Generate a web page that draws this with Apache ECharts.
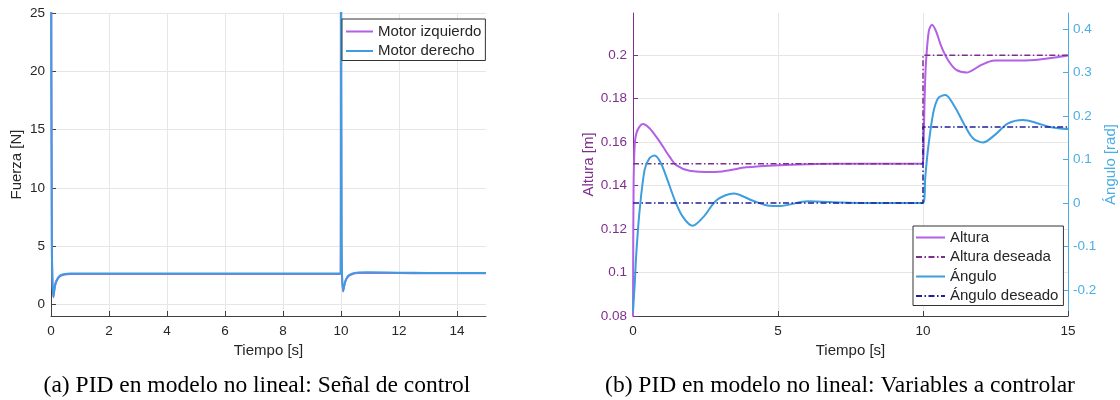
<!DOCTYPE html>
<html>
<head>
<meta charset="utf-8">
<script src="https://cdn.jsdelivr.net/npm/echarts@6/dist/echarts.min.js"></script>
<style>
  html, body { margin: 0; padding: 0; background: #fff; }
  #main { width: 1120px; height: 400px; }
</style>
</head>
<body>
<div id="main"></div>
<script>
// (a) Señal de control
const tMotor = [0, 0.03, 0.08, 0.14, 0.2, 0.31, 0.48, 0.7, 1, 2, 4, 6, 8, 9.99, 10.0, 10.02, 10.07, 10.15, 10.25, 10.4, 10.6, 10.9, 12, 13, 14, 15];
const motorIzq = [40, 5, 0.6, 1.6, 2.05, 2.42, 2.56, 2.6, 2.61, 2.61, 2.61, 2.61, 2.61, 2.61, 40, 5, 1.1, 1.95, 2.4, 2.6, 2.68, 2.7, 2.68, 2.66, 2.66, 2.66];
const motorDer = [40, 5, 0.65, 1.65, 2.09, 2.46, 2.6, 2.64, 2.65, 2.65, 2.65, 2.65, 2.65, 2.65, 40, 5, 1.15, 2.0, 2.45, 2.65, 2.73, 2.75, 2.72, 2.7, 2.7, 2.7];
const ticksA_x = [0, 2, 4, 6, 8, 10, 12, 14];
const ticksA_y = [0, 5, 10, 15, 20, 25];

// (b) Variables a controlar
const tAlt = [0, 0.02, 0.06, 0.115, 0.22, 0.34, 0.57, 0.8, 1.03, 1.26, 1.49, 1.95, 2.76, 3.33, 3.9, 5.06, 6, 7, 8, 9, 10, 10.03, 10.06, 10.1, 10.2, 10.31, 10.45, 10.63, 10.86, 11.15, 11.5, 12.01, 12.47, 13.16, 13.85, 14.54, 15];
const altura = [0.08, 0.14, 0.159, 0.164, 0.167, 0.1683, 0.1664, 0.1625, 0.158, 0.1533, 0.1494, 0.1468, 0.1462, 0.1471, 0.1484, 0.1494, 0.1498, 0.15, 0.15, 0.15, 0.15, 0.165, 0.182, 0.196, 0.211, 0.214, 0.211, 0.204, 0.1978, 0.1932, 0.192, 0.1955, 0.1975, 0.1975, 0.1978, 0.1989, 0.1998];
const tAltDes = [0, 10, 10, 15];
const alturaDes = [0.15, 0.15, 0.2, 0.2];
const tAng = [0, 0.06, 0.115, 0.23, 0.4, 0.57, 0.75, 0.95, 1.15, 1.44, 1.72, 2.06, 2.43, 2.89, 3.47, 4.14, 4.71, 5.06, 6.03, 7.2, 8, 9, 10, 10.08, 10.17, 10.35, 10.52, 10.77, 11.09, 11.43, 11.72, 12.07, 12.47, 12.93, 13.45, 13.97, 14.43, 14.95, 15];
const angulo = [-0.25, -0.185, -0.115, -0.016, 0.076, 0.103, 0.109, 0.093, 0.06, 0.0067, -0.032, -0.0525, -0.032, 0.0067, 0.022, 0.005, -0.0064, -0.007, 0.004, 0.001, 0, 0, 0, 0.06, 0.122, 0.206, 0.241, 0.2486, 0.222, 0.1795, 0.149, 0.139, 0.156, 0.183, 0.191, 0.183, 0.174, 0.170, 0.170];
const tAngDes = [0, 10, 10, 15];
const anguloDes = [0, 0, 0.1745, 0.1745];
const ticksB_alt = [0.08, 0.1, 0.12, 0.14, 0.16, 0.18, 0.2];
const ticksB_ang = [-0.2, -0.1, 0, 0.1, 0.2, 0.3, 0.4];

const C = {
  purple: "#B35FE6",
  blue: "#3D9DDE",
  purpleDark: "#7E2F8E",
  navy: "#1F1F9C",
  angAxis: "#4DAEE3",
  axis: "#404040",
  text: "#262626",
  grid: "#E6E6E6"
};
const FONT = "'Liberation Sans', Arial, sans-serif";
const DASHDOT = [6, 2.5, 1.5, 2.5];

function pairs(xs, ys) { return xs.map(function (x, i) { return [x, ys[i]]; }); }
function fmt(v) { return String(+(+v).toFixed(3)); }

function xAxisOpt(gridIndex, max, ticks, interval) {
  const o = {
    type: "value", gridIndex: gridIndex, min: 0, max: max,
    name: "Tiempo [s]", nameLocation: "middle", nameGap: 26,
    nameTextStyle: { color: C.text, fontSize: 15, fontFamily: FONT },
    axisLine: { show: true, onZero: false, lineStyle: { color: C.axis, width: 1 } },
    axisTick: { show: true, inside: true, length: 5, lineStyle: { color: C.axis } },
    axisLabel: { color: C.text, fontSize: 13.5, fontFamily: FONT, margin: 8, formatter: fmt },
    splitLine: { show: true, lineStyle: { color: C.grid, width: 1 } }
  };
  if (ticks) {
    o.axisTick.customValues = ticks;
    o.axisLabel.customValues = ticks;
  } else {
    o.interval = interval;
  }
  return o;
}

function legendOpt(names, left, top, itemWidth, padding) {
  return {
    data: names,
    orient: "vertical", left: left, top: top,
    padding: padding, itemGap: 4.5, itemWidth: itemWidth, itemHeight: 14,
    backgroundColor: "#fff", borderColor: "#333", borderWidth: 1,
    selectedMode: false,
    itemStyle: { opacity: 0 },
    textStyle: { color: C.text, fontSize: 15, lineHeight: 15, fontFamily: FONT }
  };
}

const chart = echarts.init(document.getElementById("main"), null, { renderer: "canvas" });
chart.setOption({
  animation: false,
  backgroundColor: "#fff",
  textStyle: { fontFamily: FONT },
  grid: [
    { left: 51, right: 634, top: 13, bottom: 84, containLabel: false },
    { left: 633, right: 52, top: 13, bottom: 84, containLabel: false }
  ],
  xAxis: [
    xAxisOpt(0, 15, ticksA_x),
    xAxisOpt(1, 15, null, 5)
  ],
  yAxis: [
    {
      type: "value", gridIndex: 0, min: -1, max: 25,
      name: "Fuerza [N]", nameLocation: "middle", nameGap: 27, nameRotate: 90,
      nameTextStyle: { color: C.text, fontSize: 15, fontFamily: FONT },
      axisLine: { show: true, onZero: false, lineStyle: { color: C.axis } },
      axisTick: { show: true, inside: true, length: 5, customValues: ticksA_y, lineStyle: { color: C.axis } },
      axisLabel: { color: C.text, fontSize: 13.5, fontFamily: FONT, margin: 6, customValues: ticksA_y, formatter: fmt },
      splitLine: { show: true, lineStyle: { color: C.grid } }
    },
    {
      type: "value", gridIndex: 1, min: 0.08, max: 0.2194, position: "left",
      name: "Altura [m]", nameLocation: "middle", nameGap: 36, nameRotate: 90,
      nameTextStyle: { color: C.purpleDark, fontSize: 15, fontFamily: FONT },
      axisLine: { show: true, onZero: false, lineStyle: { color: C.purpleDark } },
      axisTick: { show: true, inside: true, length: 5, customValues: ticksB_alt, lineStyle: { color: C.purpleDark } },
      axisLabel: { color: C.purpleDark, fontSize: 13.5, fontFamily: FONT, margin: 6, customValues: ticksB_alt, formatter: fmt },
      splitLine: { show: true, lineStyle: { color: C.grid } }
    },
    {
      type: "value", gridIndex: 1, min: -0.26, max: 0.437, position: "right",
      name: "Ángulo [rad]", nameLocation: "middle", nameGap: 35, nameRotate: 90,
      nameTextStyle: { color: C.angAxis, fontSize: 15, fontFamily: FONT },
      axisLine: { show: true, onZero: false, lineStyle: { color: C.angAxis } },
      axisTick: { show: true, inside: true, length: 5, customValues: ticksB_ang, lineStyle: { color: C.angAxis } },
      axisLabel: { color: C.angAxis, fontSize: 13.5, fontFamily: FONT, margin: 5, customValues: ticksB_ang, formatter: fmt },
      splitLine: { show: false }
    }
  ],
  legend: [
    legendOpt(["Motor izquierdo", "Motor derecho"], 342, 19, 27, [5, 4, 2, 3]),
    legendOpt(["Altura", "Altura deseada", "Ángulo", "Ángulo deseado"], 913, 226, 29, [4, 5, 2, 2])
  ],
  graphic: [
    {
      type: "text", x: 257, y: 386,
      style: { text: "(a) PID en modelo no lineal: Señal de control", fill: "#000", font: "23.5px 'Liberation Serif', 'Times New Roman', serif", align: "center", verticalAlign: "middle" }
    },
    {
      type: "text", x: 840, y: 386,
      style: { text: "(b) PID en modelo no lineal: Variables a controlar", fill: "#000", font: "23.5px 'Liberation Serif', 'Times New Roman', serif", align: "center", verticalAlign: "middle" }
    }
  ],
  series: [
    {
      name: "Motor izquierdo", type: "line", xAxisIndex: 0, yAxisIndex: 0,
      data: pairs(tMotor, motorIzq), showSymbol: false, symbol: "none", smooth: 0.3,
      lineStyle: { color: C.purple, width: 2 }, itemStyle: { color: C.purple }
    },
    {
      name: "Motor derecho", type: "line", xAxisIndex: 0, yAxisIndex: 0,
      data: pairs(tMotor, motorDer), showSymbol: false, symbol: "none", smooth: 0.3,
      lineStyle: { color: C.blue, width: 2 }, itemStyle: { color: C.blue }
    },
    {
      name: "Altura", type: "line", xAxisIndex: 1, yAxisIndex: 1,
      data: pairs(tAlt, altura), showSymbol: false, symbol: "none", smooth: 0.3,
      lineStyle: { color: C.purple, width: 2 }, itemStyle: { color: C.purple }
    },
    {
      name: "Altura deseada", type: "line", xAxisIndex: 1, yAxisIndex: 1,
      data: pairs(tAltDes, alturaDes), showSymbol: false, symbol: "none",
      lineStyle: { color: C.purpleDark, width: 1.5, type: DASHDOT }, itemStyle: { color: C.purpleDark }
    },
    {
      name: "Ángulo", type: "line", xAxisIndex: 1, yAxisIndex: 2,
      data: pairs(tAng, angulo), showSymbol: false, symbol: "none", smooth: 0.3,
      lineStyle: { color: C.blue, width: 2 }, itemStyle: { color: C.blue }
    },
    {
      name: "Ángulo deseado", type: "line", xAxisIndex: 1, yAxisIndex: 2,
      data: pairs(tAngDes, anguloDes), showSymbol: false, symbol: "none",
      lineStyle: { color: C.navy, width: 1.5, type: DASHDOT }, itemStyle: { color: C.navy }
    }
  ]
});
</script>
</body>
</html>
